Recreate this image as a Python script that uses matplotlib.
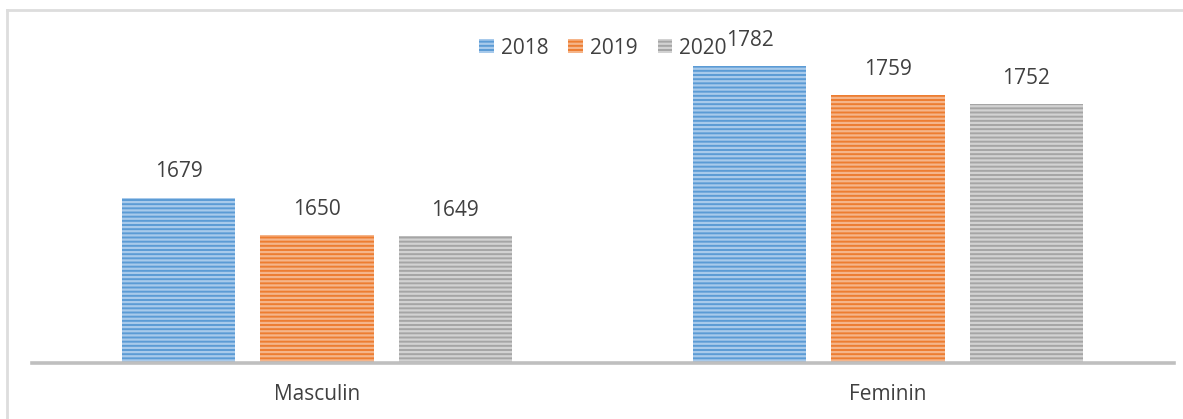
import matplotlib.pyplot as plt
import numpy as np
from matplotlib.lines import Line2D
from matplotlib.patches import Patch

plt.rcParams['font.family'] = ['Open Sans', 'DejaVu Sans']
plt.rcParams['hatch.linewidth'] = 1.6

categories = ['Masculin', 'Feminin']
years = ['2018', '2019', '2020']
values_2018 = [1679, 1782]
values_2019 = [1650, 1759]
values_2020 = [1649, 1752]
series = [values_2018, values_2019, values_2020]

face_colors = ['#5B9BD5', '#ED7D31', '#A5A5A5']
stripe_colors = ['#A8CAEB', '#F5B58A', '#D2D2D2']
text_color = '#404040'

fig = plt.figure(figsize=(11.83, 4.19), dpi=100)
ax = fig.add_axes([31.5 / 1183, 1 - 363 / 419, 1142 / 1183, 320 / 419])

x = np.arange(len(categories))
width = 0.198
step = 0.242

for i, (vals, fc, sc) in enumerate(zip(series, face_colors, stripe_colors)):
    pos = x + (i - 1) * step
    ax.bar(pos, vals, width=width, bottom=0, color=fc, edgecolor=sc,
           hatch='----', linewidth=0)
    for p, v in zip(pos, vals):
        ax.annotate(str(v), (p, v), xytext=(0, 18.7), textcoords='offset points',
                    ha='center', va='center', fontsize=15, color=text_color)

ax.set_ylim(1550, 1800)
ax.set_xlim(-0.5, 1.5)
ax.set_yticks([])
ax.set_xticks(x)
ax.set_xticklabels(categories, fontsize=15, color=text_color)
ax.tick_params(axis='x', length=0, pad=15)
for side in ['left', 'right', 'top']:
    ax.spines[side].set_visible(False)
ax.spines['bottom'].set_color('#BFBFBF')
ax.spines['bottom'].set_linewidth(2.6)

handles = [Patch(facecolor=fc, edgecolor=sc, hatch='----', linewidth=0)
           for fc, sc in zip(face_colors, stripe_colors)]
leg = fig.legend(handles, years, loc='center', bbox_to_anchor=(603 / 1183, 1 - 48 / 419),
                 ncol=3, frameon=False, fontsize=15, handlelength=0.7, handleheight=0.7,
                 handletextpad=0.35, columnspacing=0.95)
for t in leg.get_texts():
    t.set_color(text_color)

# light frame on the left and top edges
fig.add_artist(Line2D([7 / 1183, 7 / 1183], [0, 1 - 10 / 419], transform=fig.transFigure,
                      color='#DDDDDD', linewidth=2))
fig.add_artist(Line2D([7 / 1183, 1], [1 - 10 / 419, 1 - 10 / 419], transform=fig.transFigure,
                      color='#DDDDDD', linewidth=2))

fig.savefig('out.png', dpi=100)
